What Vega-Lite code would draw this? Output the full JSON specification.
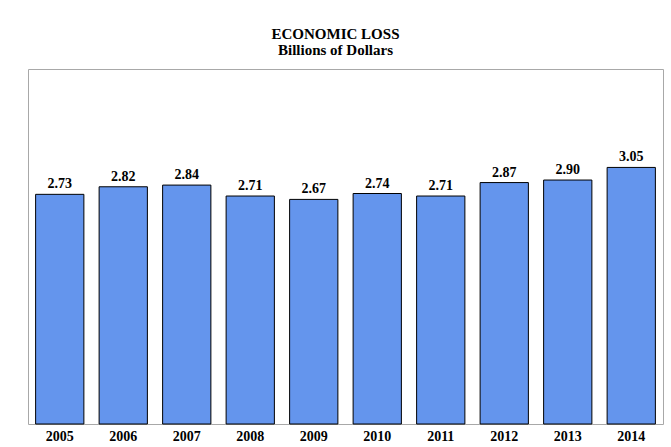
{
  "$schema": "https://vega.github.io/schema/vega-lite/v6.json",
  "autosize": {"type": "none"},
  "width": 635,
  "height": 355,
  "padding": {"left": 28, "top": 69, "right": 8, "bottom": 23},
  "background": "white",
  "title": {
    "text": "ECONOMIC LOSS",
    "subtitle": "Billions of Dollars",
    "anchor": "middle",
    "dx": -10,
    "offset": 11,
    "font": "Liberation Serif",
    "subtitleFont": "Liberation Serif",
    "fontSize": 15,
    "subtitleFontSize": 15,
    "fontWeight": "bold",
    "subtitleFontWeight": "bold",
    "color": "black",
    "subtitleColor": "black",
    "subtitlePadding": 1
  },
  "data": {
    "values": [
      {"year": "2005", "loss": 2.73},
      {"year": "2006", "loss": 2.82},
      {"year": "2007", "loss": 2.84},
      {"year": "2008", "loss": 2.71},
      {"year": "2009", "loss": 2.67},
      {"year": "2010", "loss": 2.74},
      {"year": "2011", "loss": 2.71},
      {"year": "2012", "loss": 2.87},
      {"year": "2013", "loss": 2.90},
      {"year": "2014", "loss": 3.05}
    ]
  },
  "encoding": {
    "x": {
      "field": "year",
      "type": "nominal",
      "scale": {"paddingInner": 0.24, "paddingOuter": 0.12},
      "axis": {
        "title": null,
        "labelAngle": 0,
        "ticks": false,
        "domain": false,
        "labelFont": "Liberation Serif",
        "labelFontSize": 14,
        "labelFontWeight": "bold",
        "labelColor": "black",
        "labelPadding": 5
      }
    },
    "y": {
      "field": "loss",
      "type": "quantitative",
      "scale": {"domain": [0, 4.22], "nice": false},
      "axis": null
    }
  },
  "layer": [
    {
      "mark": {"type": "bar", "fill": "#6495ED", "stroke": "black", "strokeWidth": 1}
    },
    {
      "mark": {
        "type": "text",
        "dy": -10,
        "font": "Liberation Serif",
        "fontSize": 14,
        "fontWeight": "bold",
        "color": "black"
      },
      "encoding": {
        "text": {"field": "loss", "type": "quantitative", "format": ".2f"}
      }
    }
  ],
  "config": {
    "font": "Liberation Serif",
    "view": {"stroke": "#a8a8a8", "strokeWidth": 1}
  }
}
